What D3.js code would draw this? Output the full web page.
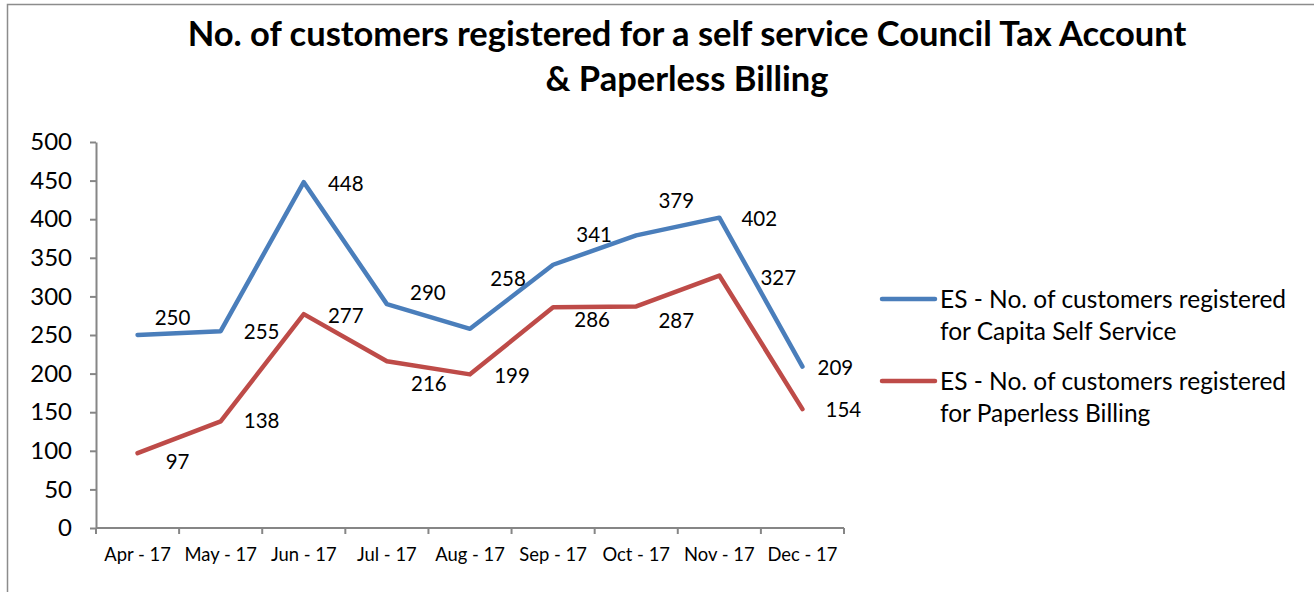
<!DOCTYPE html>
<html>
<head>
<meta charset="utf-8">
<script src="https://cdn.jsdelivr.net/npm/d3@7"></script>
<style>
  body { margin: 0; background: #fff; }
  text { font-family: Lato, "Open Sans", sans-serif; fill: #000; }
</style>
</head>
<body>
<div id="chart"></div>
<script>
// months on the x axis
const months = ["Apr - 17", "May - 17", "Jun - 17", "Jul - 17", "Aug - 17", "Sep - 17", "Oct - 17", "Nov - 17", "Dec - 17"];

// series values
const selfService = [250, 255, 448, 290, 258, 341, 379, 402, 209];
const paperless = [97, 138, 277, 216, 199, 286, 287, 327, 154];

const yTicks = [0, 50, 100, 150, 200, 250, 300, 350, 400, 450, 500];

// label nudges (px) relative to each point, as Excel placed them
const selfDx = [35, 41, 42, 41, 38, 41, 40, 40, 33];
const selfDy = [-17, 1, 2, -11, -50, -30, -34, 1, 1];
const paperDx = [40, 41, 42, 42, 42, 39, 40, 59, 41];
const paperDy = [9, 0, 2, 23, 2, 13, 15, 2, 1];

const width = 1314, height = 592;
const margin = {left: 96, right: 470, top: 142, bottom: 64};

const svg = d3.select("#chart").append("svg")
    .attr("width", width)
    .attr("height", height);

// outer chart frame
svg.append("rect")
    .attr("x", 7.5).attr("y", 4.5)
    .attr("width", width).attr("height", height)
    .attr("fill", "none")
    .attr("stroke", "#8c8c8c")
    .attr("stroke-width", 1.5);

const title = svg.append("text")
    .attr("text-anchor", "middle")
    .attr("font-size", 34.5)
    .attr("font-weight", "bold");
title.append("tspan").attr("x", 687).attr("y", 46)
    .text("No. of customers registered for a self service Council Tax Account");
title.append("tspan").attr("x", 687).attr("y", 91)
    .text("& Paperless Billing");

const x = d3.scaleBand()
    .domain(months)
    .range([margin.left, width - margin.right]);

const y = d3.scaleLinear()
    .domain([0, 500])
    .range([height - margin.bottom, margin.top]);

const axisColor = "#868686";

// y axis
const yAxis = svg.append("g")
    .attr("transform", `translate(${margin.left},0)`)
    .call(d3.axisLeft(y).tickValues(yTicks).tickSize(6).tickPadding(18).tickSizeOuter(0));
yAxis.select(".domain").attr("stroke", axisColor).attr("stroke-width", 2);
yAxis.selectAll(".tick line").attr("stroke", axisColor).attr("stroke-width", 2);
yAxis.selectAll(".tick text").attr("font-size", 24).attr("fill", "#000")
    .attr("font-family", "Lato, sans-serif");

// x axis, ticks between categories like Excel
const xAxis = svg.append("g")
    .attr("transform", `translate(0,${height - margin.bottom})`);
xAxis.append("line")
    .attr("x1", margin.left).attr("x2", width - margin.right)
    .attr("stroke", axisColor).attr("stroke-width", 2);
xAxis.selectAll(".xtick")
    .data(months)
    .join("line")
    .attr("class", "xtick")
    .attr("x1", d => x(d) + x.bandwidth())
    .attr("x2", d => x(d) + x.bandwidth())
    .attr("y1", 0).attr("y2", 6)
    .attr("stroke", axisColor).attr("stroke-width", 2);
xAxis.append("line")
    .attr("x1", margin.left).attr("x2", margin.left)
    .attr("y1", 0).attr("y2", 6)
    .attr("stroke", axisColor).attr("stroke-width", 2);
xAxis.selectAll(".xlabel")
    .data(months)
    .join("text")
    .attr("class", "xlabel")
    .attr("x", d => x(d) + x.bandwidth() / 2)
    .attr("y", 33)
    .attr("text-anchor", "middle")
    .attr("font-size", 18.4)
    .text(d => d);

const cx = i => x(months[i]) + x.bandwidth() / 2;

const series = [
  {name: ["ES - No. of customers registered", "for Capita Self Service"], values: selfService, color: "#4a7ebb", dx: selfDx, dy: selfDy},
  {name: ["ES - No. of customers registered", "for Paperless Billing"], values: paperless, color: "#be4b48", dx: paperDx, dy: paperDy}
];

const line = d3.line()
    .x((d, i) => cx(i))
    .y(d => y(d));

series.forEach(s => {
  svg.append("path")
      .datum(s.values)
      .attr("fill", "none")
      .attr("stroke", s.color)
      .attr("stroke-width", 4.5)
      .attr("stroke-linejoin", "round")
      .attr("stroke-linecap", "round")
      .attr("d", line);

  svg.append("g").selectAll("text")
    .data(s.values)
    .join("text")
      .attr("x", (d, i) => cx(i) + s.dx[i])
      .attr("y", (d, i) => y(d) + s.dy[i] + 7)
      .attr("text-anchor", "middle")
      .attr("font-size", 20.5)
      .text(d => d);
});

// legend
const legend = svg.append("g")
    .selectAll("g")
    .data(series)
    .join("g")
    .attr("transform", (d, i) => `translate(882,${299 + i * 82})`);
legend.append("line")
    .attr("x1", 0).attr("x2", 53)
    .attr("stroke", d => d.color)
    .attr("stroke-width", 4.5)
    .attr("stroke-linecap", "round");
legend.append("text")
    .attr("font-size", 24.5)
    .selectAll("tspan")
    .data(d => d.name)
    .join("tspan")
    .attr("x", 58)
    .attr("y", (d, i) => 9 + i * 32)
    .text(d => d);
</script>
</body>
</html>
